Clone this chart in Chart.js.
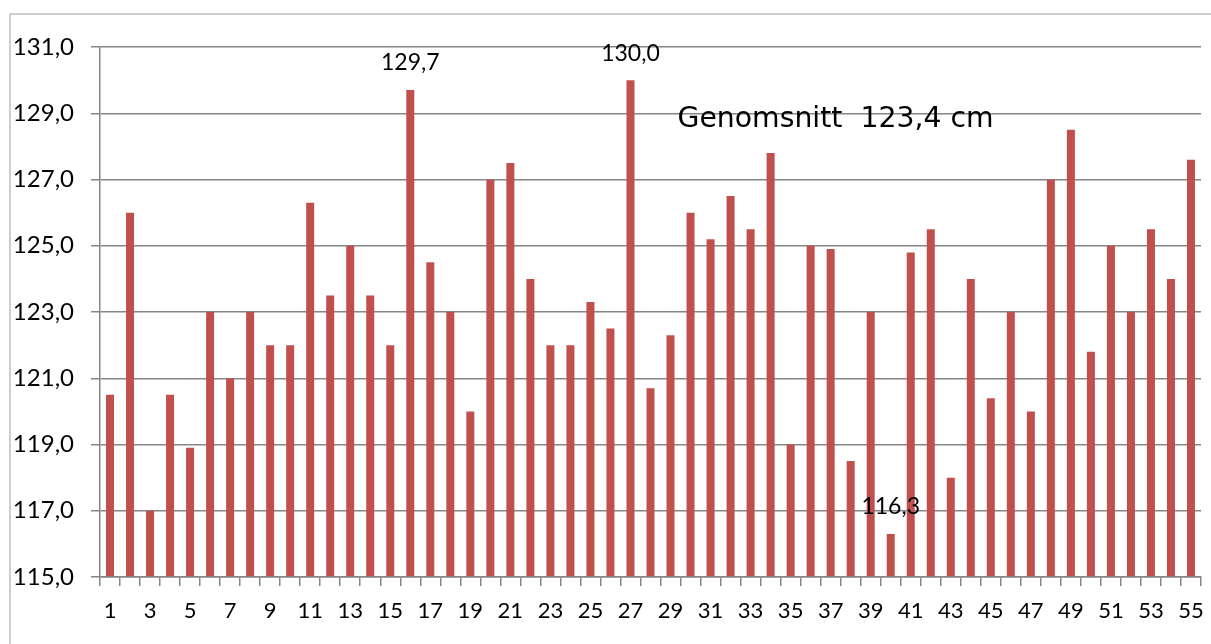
<!DOCTYPE html>
<html>
<head>
<meta charset="utf-8">
<script src="https://cdn.jsdelivr.net/npm/chart.js@4/dist/chart.umd.min.js"></script>
<style>
  html, body { margin: 0; padding: 0; background: #ffffff; }
  #wrap { position: relative; width: 1211px; height: 644px; }
</style>
</head>
<body>
<div id="wrap"><canvas id="heightChart"></canvas></div>
<script>
// elevnummer 1..55
const categories = [
  1, 2, 3, 4, 5, 6, 7, 8, 9, 10,
  11, 12, 13, 14, 15, 16, 17, 18, 19, 20,
  21, 22, 23, 24, 25, 26, 27, 28, 29, 30,
  31, 32, 33, 34, 35, 36, 37, 38, 39, 40,
  41, 42, 43, 44, 45, 46, 47, 48, 49, 50,
  51, 52, 53, 54, 55
];

// langd i cm, avlast ur bilden
const heights = [
  120.5, 126.0, 117.0, 120.5, 118.9, 123.0, 121.0, 123.0, 122.0, 122.0,
  126.3, 123.5, 125.0, 123.5, 122.0, 129.7, 124.5, 123.0, 120.0, 127.0,
  127.5, 124.0, 122.0, 122.0, 123.3, 122.5, 130.0, 120.7, 122.3, 126.0,
  125.2, 126.5, 125.5, 127.8, 119.0, 125.0, 124.9, 118.5, 123.0, 116.3,
  124.8, 125.5, 118.0, 124.0, 120.4, 123.0, 120.0, 127.0, 128.5, 121.8,
  125.0, 123.0, 125.5, 124.0, 127.6
];

// bara dessa staplar far en etikett (max, max, min)
const labelledBars = [16, 27, 40];

const yTicks = [115, 117, 119, 121, 123, 125, 127, 129, 131];

const averageText = "Genomsnitt  123,4 cm";

function fmt(v) {
  return v.toFixed(1).replace(".", ",");
}

const gridColor = "#868686";
const barColor = "#C0504D";
const labelFont = "Lato, 'DejaVu Sans', sans-serif";

// ram + etiketter + genomsnittstext
const extrasPlugin = {
  id: "extras",
  beforeDraw(chart) {
    const c = chart.ctx;
    c.save();
    c.strokeStyle = "#BFBFBF";
    c.lineWidth = 1.5;
    c.beginPath();
    c.moveTo(10, 700);
    c.lineTo(10, 14);
    c.lineTo(1211, 14);
    c.stroke();
    c.restore();
  },
  afterDatasetsDraw(chart) {
    const c = chart.ctx;
    const meta = chart.getDatasetMeta(0);
    const yScale = chart.scales.y;
    c.save();
    c.fillStyle = "#000000";
    c.font = "23px " + labelFont;
    c.textAlign = "center";
    c.textBaseline = "middle";
    labelledBars.forEach(function (num) {
      const i = categories.indexOf(num);
      const bar = meta.data[i];
      c.fillText(fmt(heights[i]), bar.x, bar.y - 27);
    });

    // genomsnitt-texten uppe i diagrammet
    const xScale = chart.scales.x;
    c.font = "28.3px 'DejaVu Sans', sans-serif";
    c.textAlign = "left";
    c.fillText(averageText, xScale.getPixelForValue(28) + 7, yScale.getPixelForValue(128.8));
    c.restore();
  }
};

document.addEventListener("DOMContentLoaded", function () {
  const canvas = document.getElementById("heightChart");
  if (!canvas) return;
  const ctx = canvas.getContext("2d");

  new Chart(ctx, {
    type: "bar",
    data: {
      labels: categories,
      datasets: [
        {
          data: heights,
          backgroundColor: barColor,
          barPercentage: 0.4,
          categoryPercentage: 1.0,
          base: 115
        }
      ]
    },
    options: {
      responsive: true,
      maintainAspectRatio: false,
      animation: false,
      layout: {
        padding: { left: 0, right: 10, top: 47, bottom: 0 }
      },
      scales: {
        y: {
          min: 115,
          max: 131,
          afterBuildTicks: function (scale) {
            scale.ticks = yTicks.map(function (v) { return { value: v }; });
          },
          afterFit: function (scale) {
            scale.width = 100;
            scale.paddingTop = 0;
            scale.paddingBottom = 0;
          },
          grid: {
            color: gridColor,
            lineWidth: 1.5,
            tickLength: 9,
            drawTicks: true
          },
          border: {
            display: true,
            color: gridColor,
            width: 1.5
          },
          ticks: {
            padding: 17,
            color: "#000000",
            font: { family: labelFont, size: 24 },
            callback: function (value) {
              return fmt(value);
            }
          }
        },
        x: {
          afterFit: function (scale) {
            scale.height = 67;
            scale.paddingLeft = 0;
            scale.paddingRight = 0;
          },
          grid: {
            drawOnChartArea: false,
            offset: true,
            color: gridColor,
            lineWidth: 1.5,
            tickLength: 9
          },
          border: {
            display: true,
            color: gridColor,
            width: 1.5
          },
          ticks: {
            autoSkip: false,
            maxRotation: 0,
            padding: 12,
            color: "#000000",
            font: { family: labelFont, size: 22 },
            callback: function (value, index) {
              return index % 2 === 0 ? String(categories[index]) : "";
            }
          }
        }
      },
      plugins: {
        legend: { display: false },
        tooltip: { enabled: false }
      }
    },
    plugins: [extrasPlugin]
  });
});
</script>
</body>
</html>
